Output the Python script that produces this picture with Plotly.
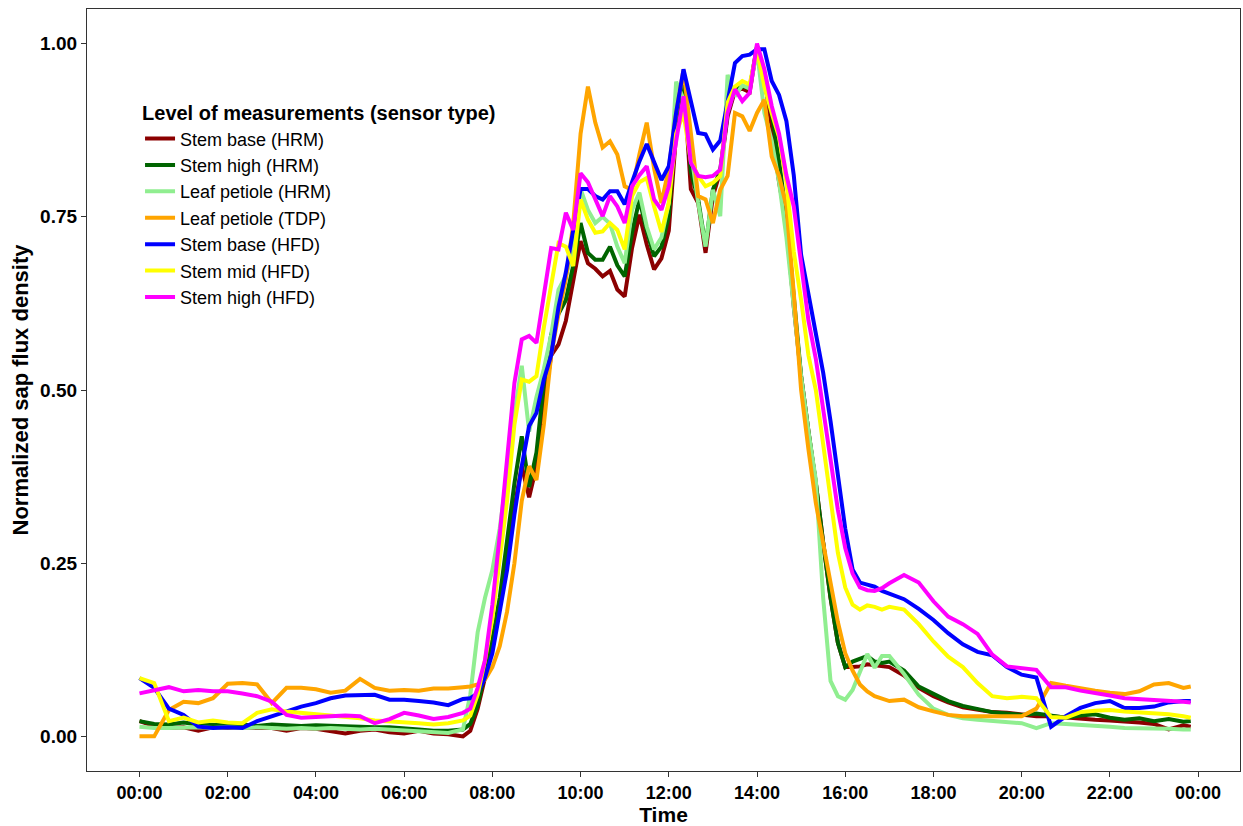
import plotly.graph_objects as go

# ---- time grid (shared by all series) ----
TIME = [
    "00:00","00:20","00:40","01:00","01:20","01:40","02:00","02:20","02:40","03:00","03:20","03:40",
    "04:00","04:20","04:40","05:00","05:20","05:40","06:00","06:20","06:40","07:00","07:20",
    "07:30","07:40","07:50","08:00","08:10","08:20","08:30","08:40","08:50","09:00","09:10","09:20",
    "09:30","09:40","09:50","10:00","10:10","10:20","10:30","10:40","10:50","11:00","11:10","11:20",
    "11:30","11:40","11:50","12:00","12:10","12:20","12:30","12:40","12:50","13:00","13:10","13:20",
    "13:30","13:40","13:50","14:00","14:10","14:20","14:30","14:40","14:50","15:00","15:10","15:20",
    "15:30","15:40","15:50","16:00",
    "16:10","16:20","16:30","16:40","16:50","17:00","17:20","17:40","18:00","18:20","18:40","19:00",
    "19:20","19:40","20:00","20:20","20:40","21:00","21:20","21:40","22:00","22:20","22:40","23:00",
    "23:20","23:40","23:50",
]

stem_base_hrm = [
    0.022,0.015,0.012,0.013,0.008,0.013,0.012,0.013,0.012,0.012,0.008,0.012,
    0.011,0.008,0.004,0.008,0.010,0.006,0.004,0.008,0.004,0.003,0.000,
    0.008,0.040,0.085,0.130,0.190,0.260,0.330,0.390,0.345,0.390,0.480,0.550,
    0.566,0.600,0.655,0.715,0.683,0.675,0.664,0.672,0.645,0.635,0.705,0.753,
    0.710,0.674,0.690,0.730,0.870,0.950,0.790,0.770,0.698,0.780,0.815,0.895,
    0.932,0.935,0.930,0.995,0.950,0.880,0.800,0.740,0.620,0.520,0.440,0.366,
    0.280,0.200,0.135,0.100,
    0.100,0.101,0.104,0.103,0.101,0.100,0.088,0.070,0.058,0.049,0.042,0.038,
    0.035,0.034,0.031,0.029,0.029,0.027,0.025,0.024,0.023,0.022,0.020,0.018,
    0.010,0.016,0.014,
]

stem_high_hrm = [
    0.022,0.018,0.017,0.020,0.017,0.016,0.016,0.017,0.015,0.017,0.016,0.015,
    0.016,0.015,0.014,0.014,0.013,0.013,0.012,0.010,0.008,0.008,0.010,
    0.018,0.045,0.090,0.140,0.200,0.280,0.365,0.433,0.360,0.410,0.510,0.580,
    0.610,0.630,0.680,0.741,0.698,0.688,0.688,0.707,0.680,0.664,0.727,0.775,
    0.730,0.693,0.707,0.751,0.890,0.955,0.815,0.775,0.707,0.789,0.818,0.900,
    0.934,0.938,0.936,0.996,0.943,0.900,0.830,0.750,0.630,0.520,0.440,0.366,
    0.280,0.200,0.135,0.100,
    0.108,0.112,0.116,0.108,0.106,0.108,0.095,0.072,0.062,0.051,0.044,0.039,
    0.035,0.033,0.031,0.033,0.030,0.027,0.030,0.032,0.027,0.024,0.026,0.022,
    0.025,0.021,0.022,
]

leaf_petiole_hrm = [
    0.014,0.012,0.012,0.013,0.013,0.012,0.013,0.012,0.013,0.012,0.011,0.012,
    0.011,0.012,0.011,0.010,0.011,0.010,0.009,0.007,0.006,0.005,0.010,
    0.060,0.150,0.200,0.240,0.300,0.380,0.465,0.535,0.440,0.490,0.530,0.580,
    0.645,0.665,0.700,0.790,0.760,0.741,0.750,0.740,0.707,0.683,0.760,0.785,
    0.736,0.703,0.720,0.770,0.945,0.920,0.840,0.770,0.707,0.789,0.751,0.955,
    0.924,0.940,0.935,0.990,0.900,0.860,0.800,0.720,0.620,0.520,0.440,0.370,
    0.200,0.080,0.058,0.053,
    0.067,0.092,0.119,0.099,0.116,0.116,0.090,0.060,0.040,0.031,0.026,0.024,
    0.022,0.021,0.019,0.012,0.019,0.018,0.017,0.015,0.014,0.012,0.012,0.012,
    0.011,0.010,0.010,
]

leaf_petiole_tdp = [
    0.000,0.000,0.038,0.050,0.048,0.055,0.076,0.077,0.075,0.048,0.070,0.070,
    0.068,0.063,0.066,0.083,0.070,0.066,0.067,0.066,0.069,0.069,0.071,
    0.072,0.075,0.082,0.100,0.130,0.180,0.250,0.340,0.390,0.370,0.450,0.550,
    0.610,0.660,0.740,0.870,0.938,0.886,0.850,0.859,0.840,0.794,0.789,0.840,
    0.886,0.820,0.770,0.820,0.900,0.962,0.870,0.780,0.775,0.741,0.789,0.809,
    0.900,0.895,0.874,0.900,0.919,0.837,0.809,0.765,0.640,0.500,0.414,0.337,
    0.279,0.221,0.165,0.120,
    0.095,0.075,0.065,0.058,0.054,0.051,0.053,0.042,0.036,0.031,0.029,0.029,
    0.030,0.029,0.029,0.040,0.077,0.073,0.069,0.066,0.063,0.061,0.065,0.075,
    0.077,0.070,0.072,
]

stem_base_hfd = [
    0.084,0.070,0.040,0.031,0.014,0.012,0.013,0.012,0.022,0.029,0.037,0.043,
    0.048,0.055,0.059,0.059,0.060,0.053,0.053,0.051,0.049,0.045,0.054,
    0.055,0.062,0.085,0.120,0.180,0.240,0.320,0.390,0.448,0.467,0.515,0.550,
    0.620,0.670,0.731,0.790,0.790,0.780,0.775,0.787,0.787,0.768,0.800,0.830,
    0.855,0.830,0.803,0.823,0.900,0.963,0.915,0.871,0.869,0.847,0.860,0.919,
    0.972,0.982,0.984,0.992,0.992,0.946,0.926,0.888,0.810,0.695,0.640,0.580,
    0.525,0.455,0.380,0.300,
    0.241,0.222,0.219,0.216,0.210,0.206,0.198,0.184,0.168,0.149,0.133,0.122,
    0.117,0.100,0.089,0.085,0.014,0.029,0.041,0.048,0.051,0.041,0.041,0.043,
    0.049,0.051,0.051,
]

stem_mid_hfd = [
    0.084,0.077,0.022,0.027,0.020,0.023,0.020,0.019,0.034,0.039,0.036,0.034,
    0.033,0.031,0.029,0.026,0.023,0.022,0.021,0.019,0.017,0.019,0.023,
    0.030,0.060,0.110,0.170,0.250,0.340,0.450,0.515,0.512,0.520,0.590,0.650,
    0.712,0.707,0.679,0.775,0.746,0.727,0.729,0.741,0.731,0.703,0.780,0.800,
    0.806,0.765,0.728,0.770,0.870,0.900,0.830,0.809,0.794,0.799,0.809,0.915,
    0.938,0.946,0.941,0.991,0.938,0.900,0.865,0.800,0.700,0.630,0.550,0.500,
    0.420,0.340,0.265,0.215,
    0.190,0.183,0.189,0.187,0.183,0.187,0.183,0.162,0.137,0.115,0.100,0.077,
    0.058,0.055,0.057,0.055,0.028,0.027,0.035,0.037,0.038,0.036,0.035,0.034,
    0.032,0.029,0.027,
]

stem_high_hfd = [
    0.062,0.067,0.071,0.065,0.067,0.065,0.065,0.062,0.058,0.050,0.031,0.027,
    0.028,0.030,0.030,0.029,0.019,0.025,0.034,0.030,0.025,0.028,0.034,
    0.040,0.070,0.110,0.190,0.290,0.400,0.510,0.573,0.578,0.568,0.640,0.705,
    0.703,0.756,0.731,0.813,0.800,0.775,0.751,0.780,0.765,0.741,0.794,0.810,
    0.823,0.775,0.760,0.794,0.860,0.924,0.828,0.809,0.807,0.809,0.818,0.900,
    0.934,0.917,0.929,1.000,0.963,0.910,0.870,0.810,0.765,0.680,0.600,0.545,
    0.470,0.400,0.327,0.272,
    0.235,0.215,0.211,0.210,0.214,0.221,0.233,0.222,0.195,0.173,0.162,0.148,
    0.118,0.101,0.098,0.096,0.071,0.071,0.066,0.063,0.059,0.055,0.054,0.053,
    0.051,0.050,0.049,
]

SERIES_NAMES = ["Stem base (HRM)", "Stem high (HRM)", "Leaf petiole (HRM)", "Leaf petiole (TDP)",
                "Stem base (HFD)", "Stem mid (HFD)", "Stem high (HFD)"]
SERIES_VALUES = [stem_base_hrm, stem_high_hrm, leaf_petiole_hrm, leaf_petiole_tdp,
                 stem_base_hfd, stem_mid_hfd, stem_high_hfd]
COLORS = ["#8B0000", "#006400", "#90EE90", "#FFA500", "#0000FF", "#FFFF00", "#FF00FF"]

X_TICKVALS = [0, 2, 4, 6, 8, 10, 12, 14, 16, 18, 20, 22, 24]
X_TICKTEXT = ["00:00", "02:00", "04:00", "06:00", "08:00", "10:00", "12:00",
              "14:00", "16:00", "18:00", "20:00", "22:00", "00:00"]
Y_TICKVALS = [0.0, 0.25, 0.5, 0.75, 1.0]
Y_TICKTEXT = ["0.00", "0.25", "0.50", "0.75", "1.00"]

hours = [int(t[:2]) + int(t[3:]) / 60 for t in TIME]

FONT = "Liberation Sans, Arial, sans-serif"

fig = go.Figure()
for name, vals, col in zip(SERIES_NAMES, SERIES_VALUES, COLORS):
    fig.add_trace(go.Scatter(x=hours, y=vals, mode="lines", name=name,
                             line=dict(color=col, width=4)))

fig.update_layout(
    width=1243, height=826,
    margin=dict(l=87, r=3, t=9, b=55),
    paper_bgcolor="white", plot_bgcolor="white",
    font=dict(family=FONT, color="black"),
    showlegend=True,
    legend=dict(
        x=0.046, y=0.888, xanchor="left", yanchor="top",
        bgcolor="rgba(0,0,0,0)",
        font=dict(family=FONT, size=18, color="black"),
        title=dict(text="Level of measurements (sensor type)",
                   font=dict(family=FONT, size=20, color="black", weight="bold")),
        tracegroupgap=0,
    ),
)

fig.update_xaxes(
    range=[-1.19, 24.95],
    tickvals=X_TICKVALS, ticktext=X_TICKTEXT,
    showgrid=False, zeroline=False,
    showline=True, mirror=True, linecolor="#333333", linewidth=1.2,
    ticks="outside", ticklen=5, tickcolor="#333333", tickwidth=1.2,
    tickfont=dict(family=FONT, size=18, color="black", weight="bold"),
    title=dict(text="Time", font=dict(family=FONT, size=21, color="black", weight="bold"),
               standoff=2),
)
fig.update_yaxes(
    range=[-0.05, 1.05],
    tickvals=Y_TICKVALS, ticktext=Y_TICKTEXT,
    showgrid=False, zeroline=False,
    showline=True, mirror=True, linecolor="#333333", linewidth=1.2,
    ticks="outside", ticklen=5, tickcolor="#333333", tickwidth=1.2,
    tickfont=dict(family=FONT, size=19, color="black", weight="bold"),
    title=dict(text="Normalized sap flux density",
               font=dict(family=FONT, size=22, color="black", weight="bold"),
               standoff=5),
)

fig.write_html("out.html")
